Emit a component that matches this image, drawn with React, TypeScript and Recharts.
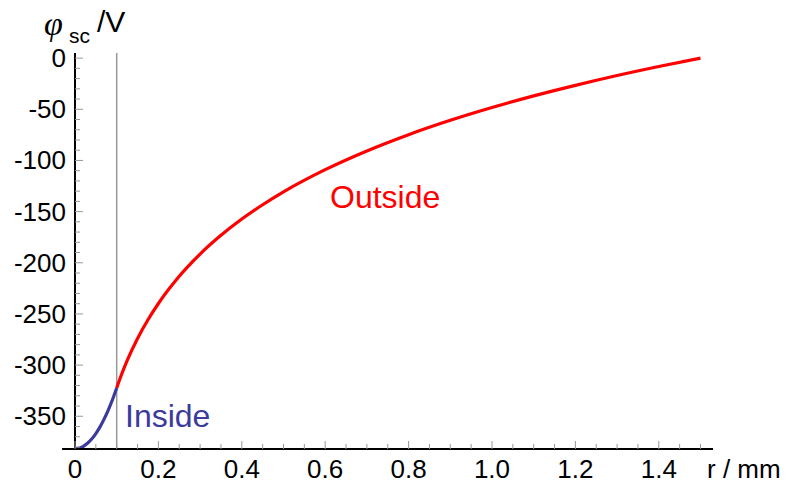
import { LineChart, Line, XAxis, YAxis, ReferenceLine } from 'recharts';

// potential inside the beam (r <= 0.1 mm)
const insideR = [0, 0.01, 0.02, 0.03, 0.04, 0.05, 0.06, 0.07, 0.08, 0.09, 0.1];
const insidePhi = [-381.8, -381.2, -379.4, -376.4, -372.3, -366.9, -360.4, -352.6, -343.7, -333.6, -322.3];

// potential outside the beam, out to the wall at 1.5 mm
const outsideR = [0.1, 0.11, 0.125, 0.15, 0.175, 0.2, 0.25, 0.3, 0.35, 0.4, 0.45, 0.5, 0.6, 0.7, 0.8, 0.9, 1.0, 1.1, 1.2, 1.3, 1.4, 1.5];
const outsidePhi = [-322.3, -310.9, -295.7, -274.0, -255.7, -239.8, -213.2, -191.5, -173.2, -157.3, -143.3, -130.7, -109.0, -90.7, -74.8, -60.8, -48.3, -36.9, -26.6, -17.0, -8.2, 0];

const beamRadius = 0.1;

const xMajor = [0, 0.2, 0.4, 0.6, 0.8, 1.0, 1.2, 1.4];
const yMajor = [-350, -300, -250, -200, -150, -100, -50, 0];

const xDomain = [0, 1.53];
const yDomain = [-382, 5];

// minor ticks: every 0.05 mm and every 10 V
const xTicks: number[] = [];
for (let k = 0; k <= 30; k++) xTicks.push(Math.round(k * 5) / 100);
const yTicks: number[] = [];
for (let v = -380; v <= 0; v += 10) yTicks.push(v);

// merge both curves into one table keyed by r
const rows: { r: number; inside?: number; outside?: number }[] = [];
insideR.forEach((r, i) => rows.push({ r, inside: insidePhi[i] }));
outsideR.forEach((r, i) => {
  const hit = rows.find((row) => row.r === r);
  if (hit) hit.outside = outsidePhi[i];
  else rows.push({ r, outside: outsidePhi[i] });
});

const FONT = 'Liberation Sans, Arial, Helvetica, sans-serif';
const BLUE = '#3b3b9d';
const RED = '#ff0000';
const TICK = '#999999';

const isMajor = (list: number[], v: number) => list.some((m) => Math.abs(m - v) < 1e-6);

const XTick = (props: any) => {
  const { x, y, payload } = props;
  const v = payload.value as number;
  const major = isMajor(xMajor, v);
  return (
    <g>
      <line x1={x} x2={x} y1={y} y2={y - (major ? 8 : 5)} stroke={TICK} strokeWidth={1} />
      {major && (
        <text x={x} y={y + 29} textAnchor="middle" fontFamily={FONT} fontSize={26} fill="#000">
          {v === 0 ? '0' : v.toFixed(1)}
        </text>
      )}
    </g>
  );
};

const YTick = (props: any) => {
  const { x, y, payload } = props;
  const v = payload.value as number;
  const major = isMajor(yMajor, v);
  return (
    <g>
      <line x1={x} x2={x + (major ? 8 : 5)} y1={y} y2={y} stroke={TICK} strokeWidth={1} />
      {major && (
        <text x={x - 9} y={y + 9} textAnchor="end" fontFamily={FONT} fontSize={26} fill="#000">
          {v}
        </text>
      )}
    </g>
  );
};

export default function App() {
  return (
    <div style={{ position: 'absolute', left: 0, top: 0, width: 789, height: 486, background: '#fff' }}>
      <LineChart width={789} height={486} data={rows} margin={{ top: 53, right: 76, bottom: 0, left: 15 }}>
        <XAxis
          dataKey="r"
          type="number"
          domain={xDomain}
          ticks={xTicks}
          interval={0}
          tick={<XTick />}
          tickLine={false}
          tickSize={0}
          tickMargin={0}
          height={37}
          axisLine={{ stroke: '#000', strokeWidth: 2 }}
          allowDataOverflow
        />
        <YAxis
          type="number"
          domain={yDomain}
          ticks={yTicks}
          interval={0}
          tick={<YTick />}
          tickLine={false}
          tickSize={0}
          tickMargin={0}
          width={60}
          axisLine={{ stroke: '#000', strokeWidth: 2 }}
          allowDataOverflow
        />
        <ReferenceLine x={beamRadius} stroke="#999999" strokeWidth={1.5} />
        {/* short stub of the r axis to the left of the origin */}
        <ReferenceLine
          segment={[{ x: -0.031, y: yDomain[0] }, { x: 0, y: yDomain[0] }]}
          stroke="#000"
          strokeWidth={2}
          ifOverflow="visible"
        />
        <Line
          dataKey="outside"
          type="monotone"
          stroke={RED}
          strokeWidth={3.2}
          dot={false}
          activeDot={false}
          isAnimationActive={false}
        />
        <Line
          dataKey="inside"
          type="monotone"
          stroke={BLUE}
          strokeWidth={3.2}
          dot={false}
          activeDot={false}
          isAnimationActive={false}
        />
      </LineChart>
      <svg width={789} height={486} style={{ position: 'absolute', left: 0, top: 0, pointerEvents: 'none' }}>
        <text x={44} y={35} fontFamily="Liberation Serif, Times New Roman, serif" fontStyle="italic" fontSize={34} fill="#000">
          φ
        </text>
        <text x={69} y={43} fontFamily={FONT} fontSize={21} fill="#000">
          sc
        </text>
        <text x={97} y={32} fontFamily={FONT} fontSize={30} fill="#000">
          /V
        </text>
        <text x={707} y={478} fontFamily={FONT} fontSize={26} fill="#000">
          r / mm
        </text>
        <text x={330} y={208} fontFamily={FONT} fontSize={32} fill={RED}>
          Outside
        </text>
        <text x={125} y={427} fontFamily={FONT} fontSize={32} fill={BLUE}>
          Inside
        </text>
      </svg>
    </div>
  );
}
